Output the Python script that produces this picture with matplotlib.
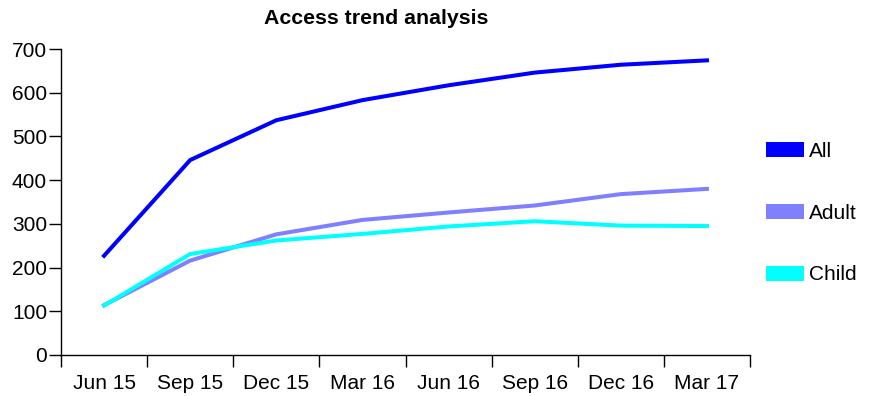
import matplotlib
matplotlib.use("Agg")
import matplotlib.pyplot as plt
from matplotlib.patches import Patch

plt.rcParams['font.family'] = ['Liberation Sans', 'DejaVu Sans']

# dados
trimestres = ["Jun 15", "Sep 15", "Dec 15", "Mar 16", "Jun 16", "Sep 16", "Dec 16", "Mar 17"]
todos = [227, 446, 537, 583, 617, 646, 664, 674]
adultos = [114, 216, 276, 309, 326, 342, 368, 380]
criancas = [113, 231, 262, 277, 294, 306, 296, 295]

series = ["All", "Adult", "Child"]
cores = ["#0000ff", "#8080ff", "#00ffff"]

fig = plt.figure(figsize=(8.75, 3.96), dpi=100)
ax = fig.add_axes([61 / 875, 1 - 355 / 396, (750 - 61) / 875, (355 - 49) / 396])

x = range(len(trimestres))
for valores, cor in zip([todos, adultos, criancas], cores):
    ax.plot(x, valores, color=cor, linewidth=2.9, solid_joinstyle="miter")

ax.set_xlim(-0.5, len(trimestres) - 0.5)
ax.set_ylim(0, 700)
ax.set_yticks(range(0, 701, 100))

# ticks nas fronteiras das categorias, rótulos no centro
ax.set_xticks([i - 0.5 for i in range(len(trimestres) + 1)])
ax.set_xticklabels([])
ax.set_xticks(list(x), minor=True)
ax.set_xticklabels(trimestres, minor=True)
ax.tick_params(axis="x", which="major", length=8.6, width=1, color="black")
ax.tick_params(axis="x", which="minor", length=0, pad=14, labelsize=15)
ax.tick_params(axis="y", length=9, width=1, pad=1, labelsize=15)

for lado in ["top", "right"]:
    ax.spines[lado].set_visible(False)
for lado in ["left", "bottom"]:
    ax.spines[lado].set_linewidth(1)

fig.text(376 / 875, 1 - 18 / 396, "Access trend analysis", fontsize=15.3,
         fontweight="bold", ha="center", va="center")

alcas = [Patch(facecolor=c, edgecolor="none") for c in cores]
fig.legend(alcas, series, loc="upper left", bbox_to_anchor=(766 / 875, 1 - 142 / 396),
           frameon=False, fontsize=15, handlelength=1.8, handleheight=0.72,
           handletextpad=0.25, labelspacing=2.05, borderpad=0, borderaxespad=0)

fig.savefig("out.png", dpi=100)
